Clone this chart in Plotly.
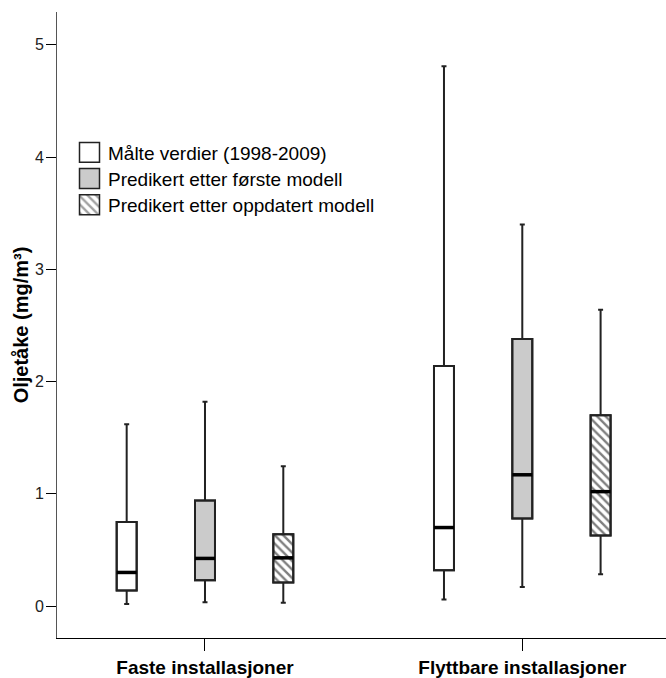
import plotly.graph_objects as go

# ---- data ----
groups = ["Faste installasjoner", "Flyttbare installasjoner"]
series = ["Målte verdier (1998-2009)", "Predikert etter første modell", "Predikert etter oppdatert modell"]

lower_malte = [0.02, 0.06]
q1_malte = [0.14, 0.32]
median_malte = [0.30, 0.70]
q3_malte = [0.75, 2.14]
upper_malte = [1.62, 4.81]

lower_forste = [0.035, 0.17]
q1_forste = [0.23, 0.78]
median_forste = [0.425, 1.17]
q3_forste = [0.94, 2.38]
upper_forste = [1.82, 3.40]

lower_oppd = [0.03, 0.285]
q1_oppd = [0.21, 0.63]
median_oppd = [0.43, 1.02]
q3_oppd = [0.64, 1.70]
upper_oppd = [1.245, 2.64]

y_ticks = [0, 1, 2, 3, 4, 5]

# ---- styling ----
FONT = "Liberation Sans, Arial, sans-serif"
group_pos = [0, 1]
offsets = [-0.2468, 0.0, 0.2468]
bw = 0.063
fills = ["white", "#cbcbcb", "white"]
patterns = ["", "", "\\"]
outline = "#222222"
HATCH = dict(fgcolor="black", bgcolor="white", size=6, solidity=0.4, fillmode="overlay")

stats = [
    (lower_malte, q1_malte, median_malte, q3_malte, upper_malte),
    (lower_forste, q1_forste, median_forste, q3_forste, upper_forste),
    (lower_oppd, q1_oppd, median_oppd, q3_oppd, upper_oppd),
]

fig = go.Figure()

# box bodies (fill + hatch) as bars
for i, (lo, q1, med, q3, hi) in enumerate(stats):
    xs = [g + offsets[i] for g in group_pos]
    marker = dict(color=fills[i], line=dict(color=outline, width=2))
    if patterns[i]:
        marker["pattern"] = dict(shape=patterns[i], **HATCH)
    fig.add_trace(go.Bar(
        x=xs, y=[b - a for a, b in zip(q1, q3)], base=q1, width=bw,
        marker=marker, name=series[i], showlegend=False, hoverinfo="skip",
    ))

# whiskers and outlines as box traces with precomputed stats
for i, (lo, q1, med, q3, hi) in enumerate(stats):
    xs = [g + offsets[i] for g in group_pos]
    fig.add_trace(go.Box(
        x=xs, q1=q1, median=med, q3=q3, lowerfence=lo, upperfence=hi,
        width=bw, whiskerwidth=0.25, fillcolor="rgba(0,0,0,0)",
        line=dict(color=outline, width=2), showlegend=False, boxpoints=False,
        name=series[i],
    ))

# thick median lines
for i, (lo, q1, med, q3, hi) in enumerate(stats):
    mx, my = [], []
    for g, m in zip(group_pos, med):
        c = g + offsets[i]
        mx += [c - bw / 2, c + bw / 2, None]
        my += [m, m, None]
    fig.add_trace(go.Scatter(x=mx, y=my, mode="lines", line=dict(color="black", width=3.5),
                             showlegend=False, hoverinfo="skip"))

# ---- legend drawn on a pixel-space overlay axis ----
LEG_X = 89.5       # symbol centre (px)
LEG_SYM = 20       # symbol size (px)
LEG_TOP = 143      # top of first symbol (px)
LEG_STEP = 26.3    # row spacing (px)
leg_tops = [LEG_TOP + k * LEG_STEP for k in range(len(series))]
fig.add_trace(go.Bar(
    x=[LEG_X] * len(series), y=[LEG_SYM] * len(series), base=leg_tops, width=LEG_SYM,
    xaxis="x2", yaxis="y2",
    marker=dict(color=fills, line=dict(color=outline, width=1.5),
                pattern=dict(shape=patterns, **HATCH)),
    showlegend=False, hoverinfo="skip",
))
for k, name in enumerate(series):
    fig.add_annotation(x=LEG_X + LEG_SYM / 2 + 6, y=leg_tops[k] + LEG_SYM / 2 + 1,
                       xref="x2", yref="y2", text=name, showarrow=False,
                       xanchor="left", yanchor="middle",
                       font=dict(size=19, family=FONT, color="black"))

fig.update_layout(
    width=666, height=678,
    margin=dict(l=57, r=0, t=12, b=37),
    paper_bgcolor="white", plot_bgcolor="white",
    barmode="overlay", boxmode="overlay",
    font=dict(family=FONT, color="black"),
    showlegend=False,
    xaxis=dict(
        range=[-0.4664, 1.4529], tickvals=group_pos, ticktext=groups,
        showline=True, linecolor="black", linewidth=1, ticks="outside", ticklen=12,
        tickcolor="black", showgrid=False, zeroline=False,
        tickfont=dict(size=19, family=FONT, color="black", weight="bold"),
    ),
    yaxis=dict(
        range=[-0.284, 5.293], tickvals=y_ticks,
        showline=True, linecolor="#555555", linewidth=1, ticks="outside", ticklen=10,
        tickcolor="black", showgrid=False, zeroline=False,
        tickfont=dict(size=16, family=FONT, color="#222222"),
        ticklabelstandoff=-1,
        title=dict(text="Oljetåke (mg/m³)",
                   font=dict(size=20, family=FONT, color="black", weight="bold"),
                   standoff=0),
    ),
    xaxis2=dict(overlaying="x", anchor="y2", range=[57, 666], visible=False, fixedrange=True),
    yaxis2=dict(overlaying="y", anchor="x2", range=[641, 12], visible=False, fixedrange=True),
)

fig.write_html("out.html")
